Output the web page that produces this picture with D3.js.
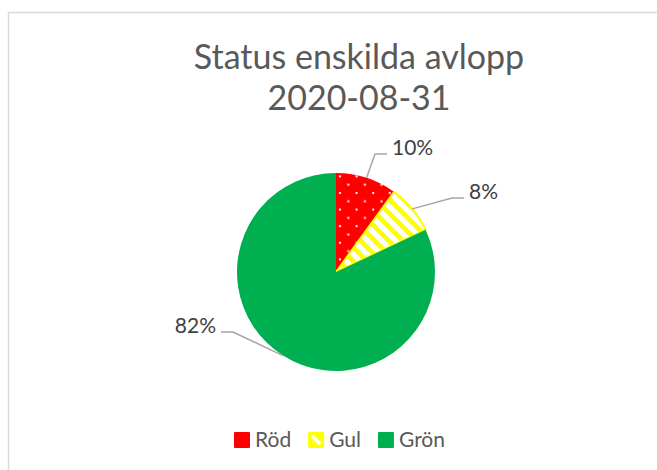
<!DOCTYPE html>
<html>
<head>
<meta charset="utf-8">
<script src="https://cdn.jsdelivr.net/npm/d3@7"></script>
<style>
  html, body { margin: 0; padding: 0; background: #fff; }
  svg { display: block; }
</style>
</head>
<body>
<script>
const categories = ["Röd", "Gul", "Grön"];
const values = [10, 8, 82];
const colors = ["#ff0000", "#ffff00", "#00b050"];
const titleLines = ["Status enskilda avlopp", "2020-08-31"];
// elbow of each leader line, relative to the pie centre
const labelOffsets = [[39, -118], [116, -74], [-103, 60]];

const width = 657;
const height = 470;
const cx = 336;
const cy = 272;
const radius = 99;
const font = "Lato, 'Open Sans', sans-serif";

const svg = d3
  .select("body")
  .append("svg")
  .attr("width", width)
  .attr("height", height);

// patterns
const defs = svg.append("defs");

const dots = defs
  .append("pattern")
  .attr("id", "pat-0")
  .attr("patternUnits", "userSpaceOnUse")
  .attr("width", 16.6)
  .attr("height", 16.6);
dots.append("rect").attr("width", 16.6).attr("height", 16.6).attr("fill", colors[0]);
dots.append("rect").attr("x", 3).attr("y", 3).attr("width", 2).attr("height", 2).attr("fill", "#fff");
dots.append("rect").attr("x", 11.3).attr("y", 11.3).attr("width", 2).attr("height", 2).attr("fill", "#fff");

const stripes = defs
  .append("pattern")
  .attr("id", "pat-1")
  .attr("patternUnits", "userSpaceOnUse")
  .attr("width", 14)
  .attr("height", 14);
stripes.append("rect").attr("width", 14).attr("height", 14).attr("fill", "#fff");
stripes
  .append("path")
  .attr("d", "M-3,-3L17,17M-3,11L3,17M11,-3L17,3")
  .attr("stroke", colors[1])
  .attr("stroke-width", 4.8);

const fillFor = (i) => (i === 2 ? colors[2] : `url(#pat-${i})`);

// chart frame
svg
  .append("rect")
  .attr("x", 8.5)
  .attr("y", 12.5)
  .attr("width", 700)
  .attr("height", 500)
  .attr("fill", "#fff")
  .attr("stroke", "#d9d9d9")
  .attr("stroke-width", 1.5);

// title
svg
  .append("text")
  .attr("x", 359)
  .attr("y", 69)
  .attr("text-anchor", "middle")
  .attr("fill", "#595959")
  .attr("font-family", font)
  .attr("font-size", 34)
  .selectAll("tspan")
  .data(titleLines)
  .enter()
  .append("tspan")
  .attr("x", 359)
  .attr("dy", (d, i) => (i === 0 ? 0 : 41))
  .text((d) => d);

// pie
const pie = d3.pie().sort(null).value((d) => d);
const arcs = pie(values);
const arc = d3.arc().innerRadius(0).outerRadius(radius);

const pieGroup = svg.append("g").attr("transform", `translate(${cx} ${cy})`);

pieGroup
  .selectAll("path")
  .data(arcs)
  .enter()
  .append("path")
  .attr("d", arc)
  .attr("fill", (d, i) => fillFor(i))
  .attr("stroke", (d, i) => (i === 1 ? colors[1] : "none"))
  .attr("stroke-width", 2)
  .attr("stroke-linejoin", "round");

// leader lines + labels
const total = d3.sum(values);
const edge = d3.arc().innerRadius(radius).outerRadius(radius);

const labels = pieGroup
  .selectAll("g.label")
  .data(arcs)
  .enter()
  .append("g")
  .attr("class", "label");

labels
  .append("path")
  .attr("fill", "none")
  .attr("stroke", "#a6a6a6")
  .attr("stroke-width", 1.5)
  .attr("d", (d, i) => {
    const [sx, sy] = edge.centroid(d);
    const [ex, ey] = labelOffsets[i];
    const dir = ex >= 0 ? 1 : -1;
    return `M${sx},${sy}L${ex},${ey}L${ex + dir * 12},${ey}`;
  });

labels
  .append("text")
  .attr("x", (d, i) => {
    const [ex] = labelOffsets[i];
    return ex >= 0 ? ex + 17 : ex - 17;
  })
  .attr("y", (d, i) => labelOffsets[i][1] + 1)
  .attr("text-anchor", (d, i) => (labelOffsets[i][0] >= 0 ? "start" : "end"))
  .attr("fill", "#404040")
  .attr("font-family", font)
  .attr("font-size", 21)
  .text((d) => `${Math.round((d.value / total) * 100)}%`);

// legend
const legend = svg.append("g");
const items = legend
  .selectAll("g")
  .data(categories)
  .enter()
  .append("g");

items
  .append("rect")
  .attr("y", 432)
  .attr("width", 16)
  .attr("height", 16)
  .attr("rx", 1)
  .attr("fill", (d, i) => colors[i]);

// small swatch keeps only one stripe of the yellow pattern
items
  .filter((d, i) => i === 1)
  .append("path")
  .attr("d", "M4,436L12,444")
  .attr("stroke", "#fff")
  .attr("stroke-width", 3.5);

items
  .append("text")
  .attr("x", 21)
  .attr("y", 447)
  .attr("fill", "#595959")
  .attr("font-family", font)
  .attr("font-size", 21)
  .text((d) => d);

let offset = 0;
const positions = [];
items.each(function () {
  positions.push(offset);
  const w = d3.select(this).select("text").node().getComputedTextLength();
  offset += 21 + w + 17;
});
const legendWidth = offset - 17;
const legendX = 339.5 - legendWidth / 2;
items.attr("transform", (d, i) => `translate(${legendX + positions[i]} 0)`);
</script>
</body>
</html>
